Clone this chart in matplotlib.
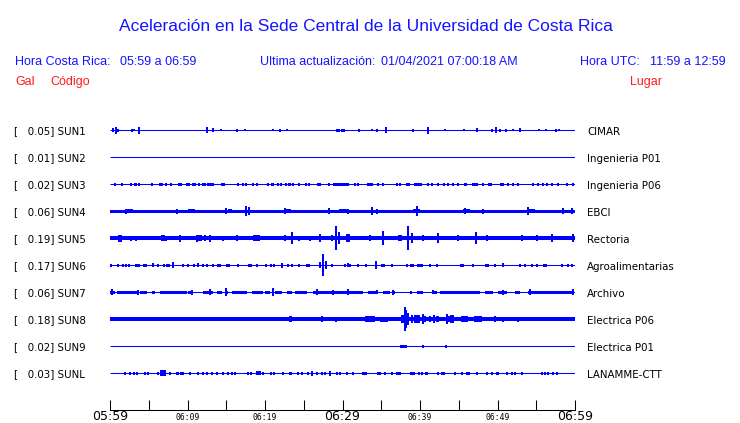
import matplotlib
matplotlib.use("Agg")
import matplotlib.pyplot as plt
import matplotlib.transforms as mtransforms

# ---------------- data ----------------
TITLE = "Aceleración en la Sede Central de la Universidad de Costa Rica"
CODES = ["SUN1", "SUN2", "SUN3", "SUN4", "SUN5", "SUN6", "SUN7", "SUN8", "SUN9", "SUNL"]
GAL = [0.05, 0.01, 0.02, 0.06, 0.19, 0.17, 0.06, 0.18, 0.02, 0.03]
PLACES = ["CIMAR", "Ingenieria P01", "Ingenieria P06", "EBCI", "Rectoria",
          "Agroalimentarias", "Archivo", "Electrica P06", "Electrica P01", "LANAMME-CTT"]
# background noise half-amplitude per station (relative units)
NOISE = [0, 0, 0, 1.5, 2, 0, 0.5, 2, 0, 0]

# bursts: (minute after 05:59, half amplitude, duration in minutes)
SUN1 = [(0.39, 2, 0.13), (0.77, 3.5, 0.13), (1.03, 1.5, 0.26), (2.84, 1.5, 0.13), (3.10, 1, 0.13),
        (3.74, 3.5, 0.26), (12.52, 3, 0.26), (13.29, 2, 0.13), (14.32, 1, 0.13), (16.39, 1.5, 0.13),
        (17.42, 1, 0.13), (21.03, 1, 0.13), (21.94, 1.5, 0.13), (22.84, 1, 0.13), (29.42, 1.5, 0.39),
        (30.06, 1.5, 0.52), (32.13, 1.5, 0.13), (33.81, 1, 0.13), (34.45, 1.5, 0.13), (35.61, 3, 0.13),
        (39.10, 1.5, 0.26), (41.03, 3.5, 0.26), (43.23, 1, 0.13), (45.68, 1, 0.13), (47.35, 2, 0.26),
        (49.29, 1.5, 0.13), (49.81, 3, 0.13), (50.32, 1.5, 0.26), (51.10, 1.5, 0.13), (52.00, 1, 0.13),
        (52.90, 2, 0.26), (55.35, 1, 0.13), (56.26, 1, 0.13), (57.55, 1.5, 0.13), (57.94, 1, 0.13)]
SUN2 = []
SUN3 = [(0.65, 1.5, 0.13), (1.55, 1.5, 0.13), (2.71, 1.5, 0.26), (3.35, 1.5, 0.39), (3.74, 1.5, 0.13),
        (5.42, 1.5, 0.13), (6.58, 1.5, 0.52), (7.23, 1.5, 0.26), (7.87, 1.5, 0.13), (9.03, 1.5, 0.52),
        (9.94, 1.5, 0.13), (10.19, 1.5, 0.13), (10.84, 1.5, 0.39), (11.48, 1.5, 0.13), (12.00, 1.5, 0.13),
        (12.26, 1.5, 0.13), (12.65, 1.5, 0.13), (13.03, 1.5, 0.65), (14.58, 1.5, 0.39), (16.52, 1.5, 0.26),
        (17.16, 1.5, 0.13), (17.55, 1.5, 0.26), (18.45, 1.5, 0.13), (18.97, 1.5, 0.13), (20.39, 1.5, 0.13),
        (21.03, 1.5, 0.39), (21.68, 1.5, 0.13), (22.06, 1.5, 0.13), (22.71, 1.5, 0.13), (23.10, 1.5, 0.39),
        (23.61, 1.5, 0.13), (24.39, 1.5, 0.13), (25.29, 1.5, 0.13), (25.68, 1.5, 0.13), (26.97, 1.5, 0.52),
        (28.26, 1.5, 0.13), (28.90, 1.5, 0.13), (29.42, 1.5, 0.65), (30.30, 1.5, 0.90), (30.58, 1.5, 0.39),
        (31.61, 1.5, 0.13), (32.00, 1.5, 0.13), (33.55, 1.5, 0.65), (34.58, 1.5, 0.13), (35.23, 1.5, 0.13),
        (37.03, 1.5, 0.13), (37.42, 1.5, 0.13), (38.45, 1.5, 0.52), (39.74, 1.5, 1.03), (41.03, 1.5, 0.13),
        (41.55, 1.5, 0.13), (42.32, 1.5, 0.13), (43.10, 1.5, 0.13), (43.61, 1.5, 0.13), (44.26, 1.5, 0.13),
        (44.90, 1.5, 0.13), (45.81, 1.5, 0.39), (47.10, 1.5, 0.78), (48.13, 1.5, 0.13), (49.03, 1.5, 0.52),
        (50.45, 1.5, 0.13), (50.71, 1.5, 0.13), (51.35, 1.5, 0.13), (52.00, 1.5, 0.13), (52.65, 1.5, 0.13),
        (54.58, 1.5, 0.13), (55.23, 1.5, 0.13), (55.87, 1.5, 0.13), (56.39, 1.5, 0.13), (57.03, 1.5, 0.13),
        (57.81, 1.5, 0.13), (58.97, 1.5, 0.13), (59.74, 1.5, 0.13)]
SUN4 = [(2.06, 2.5, 0.13), (2.50, 2, 0.90), (8.65, 2.5, 0.13), (10.50, 2, 1.00), (14.97, 3, 0.13),
        (15.50, 2, 0.60), (17.55, 5, 0.13), (17.94, 4, 0.13), (22.58, 3, 0.13), (23.00, 2, 0.80),
        (28.26, 3, 0.13), (30.20, 2, 1.20), (30.71, 2.5, 0.13), (33.81, 4, 0.13), (34.45, 2.5, 0.13),
        (39.61, 5, 0.13), (39.50, 2, 0.90), (45.81, 3, 0.13), (46.00, 2, 0.80), (48.13, 2.5, 0.13),
        (53.94, 4, 0.13), (54.30, 2, 1.00), (58.45, 3, 0.13), (59.61, 3, 0.13)]
SUN5 = [(1.29, 3.5, 0.39), (2.71, 2.5, 0.26), (3.35, 2.5, 0.13), (6.84, 3, 0.39), (7.23, 2.5, 0.13),
        (9.03, 3.5, 0.13), (11.23, 3.5, 0.26), (11.61, 3, 0.52), (12.26, 3, 0.26), (12.90, 3.5, 0.26),
        (14.58, 2.5, 0.26), (16.39, 3, 0.13), (18.71, 3, 0.39), (19.10, 3, 0.39), (22.58, 3, 0.26),
        (23.48, 6, 0.13), (24.39, 2.5, 0.26), (25.81, 2.5, 0.26), (27.10, 4, 0.26), (28.65, 3, 0.13),
        (29.16, 12, 0.13), (29.55, 6, 0.26), (30.71, 4, 0.39), (33.55, 3, 0.26), (35.23, 7, 0.13),
        (37.42, 3, 0.39), (38.45, 12, 0.13), (38.97, 5, 0.26), (40.39, 3, 0.26), (42.32, 5, 0.26),
        (44.90, 3, 0.26), (47.23, 6, 0.13), (48.65, 3, 0.26), (53.16, 3, 0.26), (55.10, 3, 0.26),
        (57.03, 4, 0.13), (59.74, 4, 0.13)]
SUN6 = [(0.13, 1.5, 0.13), (1.03, 1.5, 0.13), (1.68, 1.5, 0.13), (2.06, 1.5, 0.13), (2.45, 1.5, 0.13),
        (3.61, 1.5, 0.65), (4.52, 1.5, 0.52), (5.55, 2, 0.13), (6.19, 1.5, 0.13), (6.97, 1.5, 0.13),
        (7.48, 1.5, 0.52), (8.13, 3, 0.13), (9.42, 1.5, 0.13), (10.06, 1.5, 0.13), (10.84, 1.5, 0.13),
        (11.35, 2, 0.13), (12.00, 1.5, 0.13), (12.52, 1.5, 0.13), (13.29, 1.5, 0.13), (14.06, 1.5, 0.52),
        (15.23, 1.5, 0.52), (16.52, 1.5, 0.13), (18.06, 1.5, 0.52), (18.97, 1.5, 0.13), (20.13, 1.5, 0.13),
        (20.77, 1.5, 0.13), (21.16, 1.5, 0.13), (22.19, 2.5, 0.13), (22.97, 1.5, 0.13), (23.48, 1.5, 0.13),
        (24.39, 1.5, 0.13), (25.55, 1.5, 0.52), (27.10, 3, 0.13), (27.48, 11, 0.13), (27.87, 4, 0.13),
        (28.65, 1.5, 0.13), (30.32, 1.5, 0.13), (30.71, 2, 0.13), (30.84, 1.5, 0.52), (32.00, 1.5, 0.13),
        (33.03, 1.5, 0.13), (34.32, 4, 0.13), (35.23, 1.5, 0.52), (36.39, 1.5, 0.13), (38.32, 1.5, 0.13),
        (38.97, 1.5, 0.52), (40.00, 1.5, 0.65), (41.29, 1.5, 0.13), (42.19, 1.5, 0.13), (45.42, 1.5, 0.52),
        (46.84, 1.5, 0.13), (48.65, 1.5, 0.52), (49.68, 1.5, 0.13), (50.71, 2, 0.13), (52.90, 1.5, 0.13),
        (53.55, 1.5, 0.13), (54.45, 1.5, 0.13), (55.10, 1.5, 0.13), (56.13, 1.5, 0.52), (58.32, 1.5, 0.13),
        (59.10, 1.5, 0.13), (59.61, 1.5, 0.13)]
SUN7 = [(0.32, 1.5, 0.65), (2.19, 1.5, 2.58), (4.32, 1.5, 0.90), (5.61, 1.5, 0.40), (8.19, 1.5, 3.48),
        (10.39, 1.5, 0.65), (12.65, 1.5, 1.29), (14.13, 1.5, 0.65), (15.03, 1.5, 0.40), (16.71, 1.5, 1.94),
        (19.03, 1.5, 1.42), (20.32, 1.5, 0.65), (21.74, 1.5, 0.90), (23.16, 1.5, 0.65), (24.65, 1.5, 1.55),
        (28.13, 1.5, 3.87), (31.16, 1.5, 2.97), (33.94, 1.5, 1.29), (35.68, 1.5, 0.90), (36.58, 1.5, 0.40),
        (38.84, 1.5, 0.26), (40.00, 1.5, 0.77), (41.94, 1.5, 0.52), (45.16, 1.5, 5.16), (48.90, 1.5, 1.03),
        (50.65, 1.5, 1.16), (52.58, 1.5, 0.65), (56.84, 1.5, 5.81),
        (0.26, 3, 0.13), (3.61, 2.5, 0.13), (10.58, 2.5, 0.13), (12.90, 3, 0.13), (14.97, 4, 0.13),
        (21.03, 4, 0.13), (26.71, 3, 0.13), (28.77, 2.5, 0.13), (30.71, 3, 0.13), (34.45, 2, 0.13),
        (36.52, 2.5, 0.13), (41.68, 2, 0.13), (50.71, 2.5, 0.13), (54.19, 3, 0.13), (59.74, 3, 0.13)]
SUN8 = [(23.23, 3, 0.39), (27.35, 3, 0.26), (29.16, 2.5, 0.13), (33.55, 3, 1.20), (35.35, 2.5, 1.03),
        (37.90, 4, 0.70), (38.06, 12, 0.13), (38.20, 9, 0.13), (38.45, 6, 0.26), (38.97, 4, 0.26),
        (39.60, 4, 0.77), (40.39, 5, 0.13), (40.60, 3, 0.40), (41.29, 3, 0.26), (41.81, 4, 0.13),
        (42.20, 3, 0.40), (43.48, 5, 0.13), (43.80, 3, 0.90), (44.13, 4, 0.39), (45.80, 3, 0.90),
        (47.50, 3, 1.10), (49.68, 3, 0.13), (50.71, 2.5, 0.13), (52.65, 2.5, 0.13)]
SUN9 = [(37.90, 1.5, 0.90), (40.39, 1.5, 0.13), (43.35, 1.5, 0.13)]
SUNL = [(1.94, 1.5, 0.13), (2.58, 1.5, 0.13), (3.10, 1.5, 0.13), (3.48, 1.5, 0.13), (4.52, 1.5, 0.13),
        (4.90, 1.5, 0.13), (6.19, 1.5, 0.13), (6.84, 3, 0.65), (7.74, 1.5, 0.13), (8.65, 1.5, 0.39),
        (9.29, 1.5, 0.52), (10.32, 1.5, 0.13), (11.35, 1.5, 0.13), (12.00, 1.5, 0.13), (12.52, 1.5, 0.13),
        (13.16, 1.5, 0.13), (13.81, 1.5, 0.13), (14.58, 1.5, 0.13), (15.23, 1.5, 0.13), (15.74, 1.5, 0.13),
        (16.13, 1.5, 0.13), (17.81, 1.5, 0.13), (18.19, 1.5, 0.13), (19.16, 2, 0.52), (19.74, 1.5, 0.13),
        (20.77, 1.5, 0.13), (21.16, 1.5, 0.13), (22.32, 1.5, 0.13), (23.23, 1.5, 0.39), (24.26, 1.5, 0.13),
        (24.77, 1.5, 0.13), (25.55, 1.5, 0.13), (26.06, 2.5, 0.13), (26.71, 1.5, 0.13), (27.35, 1.5, 0.13),
        (27.74, 1.5, 0.13), (28.39, 2.5, 0.13), (29.29, 1.5, 0.13), (29.68, 1.5, 0.13), (30.58, 1.5, 0.13),
        (31.35, 1.5, 0.13), (32.90, 1.5, 0.65), (34.71, 1.5, 0.52), (35.48, 1.5, 0.13), (36.39, 1.5, 0.13),
        (37.22, 1.5, 0.65), (39.03, 1.5, 0.65), (39.87, 1.5, 0.13), (40.26, 1.5, 0.13), (40.84, 1.5, 0.40),
        (42.32, 1.5, 0.13), (42.97, 1.5, 0.52), (44.52, 1.5, 0.13), (45.42, 1.5, 0.13), (46.19, 1.5, 0.52),
        (47.35, 1.5, 0.13), (48.65, 1.5, 0.13), (49.29, 1.5, 0.13), (49.94, 1.5, 0.39), (51.23, 1.5, 0.13),
        (51.87, 1.5, 0.13), (52.26, 1.5, 0.13), (53.16, 1.5, 0.13), (55.74, 1.5, 0.13), (56.13, 1.5, 0.13),
        (56.52, 1.5, 0.13), (57.16, 1.5, 0.13), (57.68, 1.5, 0.13)]
BURSTS = [SUN1, SUN2, SUN3, SUN4, SUN5, SUN6, SUN7, SUN8, SUN9, SUNL]

TICK_MINUTES = [0, 10, 20, 30, 40, 50, 60]
TICK_LABELS = ["05:59", "06:09", "06:19", "06:29", "06:39", "06:49", "06:59"]
BIG_LABELS = ["05:59", "06:29", "06:59"]
MINOR_MINUTES = [5, 15, 25, 35, 45, 55]

HORA_CR = "05:59 a 06:59"
HORA_UTC = "11:59 a 12:59"
UPDATED = "01/04/2021 07:00:18 AM"

# ---------------- drawing ----------------
W, H = 740, 423
BLUE = "#0000ff"
TBLUE = "#1414ff"
RED = "#ff1a1a"
fig = plt.figure(figsize=(W / 100, H / 100), dpi=100)
fig.patch.set_facecolor("white")

AX_TOP, AX_BOT = 115, 409.5
ax = fig.add_axes([110 / W, 1 - AX_BOT / H, 465 / W, (AX_BOT - AX_TOP) / H])
SPACING = 27
ax.set_xlim(0, 60)
ax.set_ylim(-(AX_BOT - 130), 130 - AX_TOP)

lab_tr = mtransforms.blended_transform_factory(fig.transFigure, ax.transData)
for i, code in enumerate(CODES):
    y0 = -SPACING * i
    ax.plot([0, 60], [y0, y0], color=BLUE, lw=0.75, solid_capstyle="butt")
    n = NOISE[i]
    if n > 0:
        ax.fill_between([0, 60], y0 - n, y0 + n, color=BLUE, lw=0, antialiased=False)
    if BURSTS[i]:
        m, a, d = zip(*BURSTS[i])
        ax.bar(m, [2 * v for v in a], width=[max(v, 0.15) for v in d],
               bottom=[y0 - v for v in a], color=BLUE, linewidth=0, antialiased=False)
    ax.text(14 / W, y0 - 4.5, "[   %.2f] %s" % (GAL[i], code), transform=lab_tr,
            fontsize=7.4, family="DejaVu Sans", color="black", va="baseline", ha="left")
    ax.text(587 / W, y0 - 4.5, PLACES[i], transform=lab_tr,
            fontsize=7.4, family="DejaVu Sans", color="black", va="baseline", ha="left")

for s in ["top", "left", "right"]:
    ax.spines[s].set_visible(False)
ax.spines["bottom"].set_linewidth(0.75)
ax.set_yticks([])
ax.set_xticks(TICK_MINUTES)
ax.set_xticks(MINOR_MINUTES, minor=True)
ax.tick_params(axis="x", which="both", direction="in", length=7, width=0.75,
               labelbottom=False, color="black")

tick_tr = ax.get_xaxis_transform() + mtransforms.ScaledTranslation(0, -10.5 / 100, fig.dpi_scale_trans)
for m, lab in zip(TICK_MINUTES, TICK_LABELS):
    if lab in BIG_LABELS:
        ax.text(m, 0, lab, transform=tick_tr, fontsize=9, family="DejaVu Sans",
                ha="center", va="baseline", color="black")
    else:
        ax.text(m, 0.0, lab, transform=tick_tr, fontsize=5.8, family="DejaVu Sans Mono",
                ha="center", va="baseline", color="black")


def ftext(x, y, s, **kw):
    fig.text(x / W, 1 - y / H, s, va="baseline", family="Liberation Sans", **kw)


ftext(366, 30.7, TITLE, fontsize=12.5, color=TBLUE, ha="center")
ftext(15, 65.3, "Hora Costa Rica:", fontsize=9, color=TBLUE)
ftext(120, 65.3, HORA_CR, fontsize=9, color=TBLUE)
ftext(260, 65.3, "Ultima actualización:", fontsize=9, color=TBLUE)
ftext(381, 65.3, UPDATED, fontsize=9, color=TBLUE)
ftext(580, 65.3, "Hora UTC:", fontsize=9, color=TBLUE)
ftext(650, 65.3, HORA_UTC, fontsize=9, color=TBLUE)
ftext(15, 85.3, "Gal", fontsize=9, color=RED)
ftext(50, 85.3, "Código", fontsize=9, color=RED)
ftext(630, 85.3, "Lugar", fontsize=9, color=RED)

fig.savefig("out.png", dpi=100, facecolor="white")
